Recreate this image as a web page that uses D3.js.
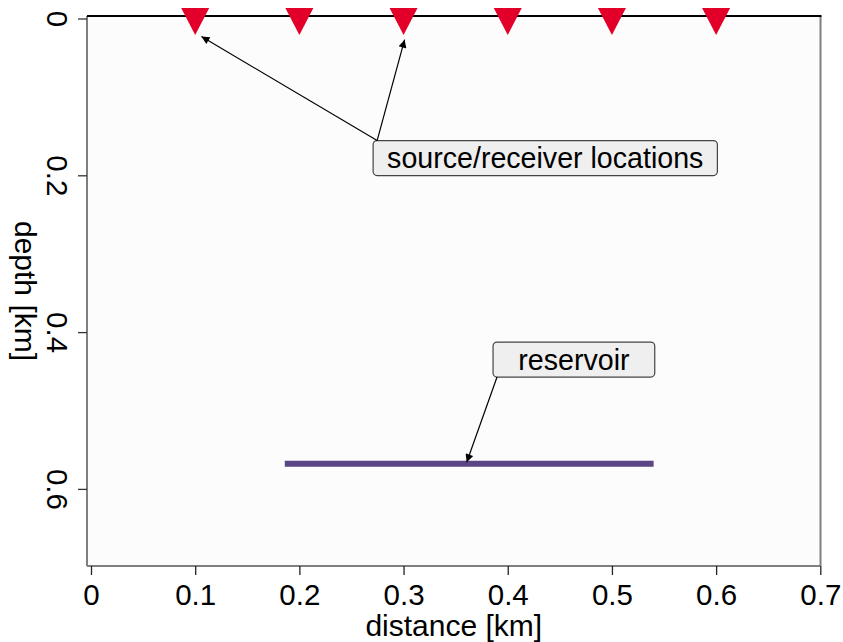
<!DOCTYPE html>
<html>
<head>
<meta charset="utf-8">
<script src="https://cdn.jsdelivr.net/npm/d3@7"></script>
<style>
  html, body { margin: 0; padding: 0; background: #ffffff; }
  svg { display: block; font-family: "Liberation Sans", Arial, sans-serif; }
</style>
</head>
<body>
<svg id="chart" width="843" height="642"></svg>
<script>
// ---- data ----
const xTicks = [0, 0.1, 0.2, 0.3, 0.4, 0.5, 0.6, 0.7];
const yTicks = [0, 0.2, 0.4, 0.6];
const stationX = [0.1, 0.2, 0.3, 0.4, 0.5, 0.6];
const stationDepth = [0, 0, 0, 0, 0, 0];
const reservoirX = [0.186, 0.54];
const reservoirDepth = [0.568, 0.568];
const annotationLabels = ["source/receiver locations", "reservoir"];
const annotationTextX = [0.436, 0.4635];
const annotationTextY = [0.178, 0.435];
const annotationTips = [
  [[0.106, 0.023], [0.301, 0.027]],
  [[0.3606, 0.566]]
];
const xLabel = "distance [km]";
const yLabel = "depth [km]";

// ---- layout ----
const svg = d3.select("#chart");
const plot = { left: 87, right: 820.5, top: 16, bottom: 566 };
const x = d3.scaleLinear().domain([0, 0.7]).range([91, 820.3]);
const y = d3.scaleLinear().domain([0, 0.7]).range([18.5, 567.3]);
const tickFont = 29.5, titleFont = 30, annFont = 28.6;

// plot background
svg.append("rect")
  .attr("x", plot.left).attr("y", plot.top)
  .attr("width", plot.right - plot.left).attr("height", plot.bottom - plot.top)
  .attr("fill", "#fcfcfc");

// spines
const spineColor = "#7f7f7f";
svg.append("line").attr("x1", plot.left).attr("x2", plot.left).attr("y1", plot.top).attr("y2", plot.bottom)
  .attr("stroke", spineColor).attr("stroke-width", 2);
svg.append("line").attr("x1", plot.right).attr("x2", plot.right).attr("y1", plot.top).attr("y2", plot.bottom)
  .attr("stroke", spineColor).attr("stroke-width", 2);
svg.append("line").attr("x1", plot.left).attr("x2", plot.right).attr("y1", plot.bottom).attr("y2", plot.bottom)
  .attr("stroke", spineColor).attr("stroke-width", 2);
svg.append("line").attr("x1", plot.left).attr("x2", plot.right + 1).attr("y1", plot.top).attr("y2", plot.top)
  .attr("stroke", "#000").attr("stroke-width", 2);

// x axis
const xAxis = svg.append("g")
  .attr("transform", `translate(0,${plot.bottom})`)
  .call(d3.axisBottom(x).tickValues(xTicks).tickSize(9).tickFormat(d => String(d)));
xAxis.select(".domain").remove();
xAxis.selectAll(".tick line").attr("stroke", "#222").attr("stroke-width", 1.3);
xAxis.selectAll(".tick text")
  .attr("y", 39).attr("dy", 0)
  .attr("font-size", tickFont).attr("font-family", "Liberation Sans, Arial, sans-serif")
  .attr("fill", "#000");

// y axis (labels rotated, reading downward)
const yAxis = svg.append("g")
  .attr("transform", `translate(${plot.left},0)`)
  .call(d3.axisLeft(y).tickValues(yTicks).tickSize(9).tickFormat(d => String(d)));
yAxis.select(".domain").remove();
yAxis.selectAll(".tick line").attr("stroke", "#333").attr("stroke-width", 1.3);
yAxis.selectAll(".tick text")
  .attr("transform", "rotate(90)")
  .attr("x", 0).attr("y", 40).attr("dy", 0)
  .attr("text-anchor", "middle")
  .attr("font-size", tickFont).attr("font-family", "Liberation Sans, Arial, sans-serif")
  .attr("fill", "#000");

// axis titles
svg.append("text")
  .attr("x", (plot.left + plot.right) / 2).attr("y", 636)
  .attr("text-anchor", "middle").attr("font-size", titleFont)
  .text(xLabel);
svg.append("text")
  .attr("transform", `translate(15,${(plot.top + plot.bottom) / 2}) rotate(90)`)
  .attr("text-anchor", "middle").attr("font-size", titleFont)
  .text(yLabel);

// reservoir line
svg.append("line")
  .attr("x1", x(reservoirX[0])).attr("x2", x(reservoirX[1]))
  .attr("y1", y(reservoirDepth[0])).attr("y2", y(reservoirDepth[1]))
  .attr("stroke", "#5a4585").attr("stroke-width", 6);

// stations (downward triangles)
const triW = 28, triUp = 10.5, triDown = 16.5;
svg.append("g").selectAll("path")
  .data(stationX.map((v, i) => [v, stationDepth[i]]))
  .join("path")
  .attr("transform", d => `translate(${x(d[0])},${y(d[1])})`)
  .attr("d", `M${-triW / 2},${-triUp}L${triW / 2},${-triUp}L0,${triDown}Z`)
  .attr("fill", "#e2002a");

// annotations
const defs = svg.append("defs");
defs.append("marker")
  .attr("id", "arrow").attr("viewBox", "0 0 10 10")
  .attr("refX", 10).attr("refY", 5)
  .attr("markerWidth", 11).attr("markerHeight", 8).attr("markerUnits", "userSpaceOnUse")
  .attr("orient", "auto")
  .append("path").attr("d", "M0,0L10,5L0,10Z").attr("fill", "#000");

const padX = [14, 25], padY = 17.5;
annotationLabels.forEach((label, i) => {
  const g = svg.append("g");
  const cx = x(annotationTextX[i]), cy = y(annotationTextY[i]);
  const rect = g.append("rect");
  const t = g.append("text")
    .attr("x", cx).attr("y", cy + 10)
    .attr("text-anchor", "middle").attr("font-size", annFont)
    .text(label);
  const bb = t.node().getBBox();
  const bx = cx - bb.width / 2 - padX[i], bw = bb.width + 2 * padX[i];
  const by = cy - padY, bh = 2 * padY;
  rect.attr("x", bx).attr("y", by).attr("width", bw).attr("height", bh)
    .attr("rx", 4).attr("ry", 4)
    .attr("fill", "#efefef").attr("stroke", "#444").attr("stroke-width", 1.2);
  annotationTips[i].forEach(tip => {
    const tx = x(tip[0]), ty = y(tip[1]);
    const sx = bx + 4;
    const sy = ty < by ? by : by + bh;
    svg.append("line")
      .attr("x1", sx).attr("y1", sy).attr("x2", tx).attr("y2", ty)
      .attr("stroke", "#000").attr("stroke-width", 1.2)
      .attr("marker-end", "url(#arrow)");
  });
});
</script>
</body>
</html>
